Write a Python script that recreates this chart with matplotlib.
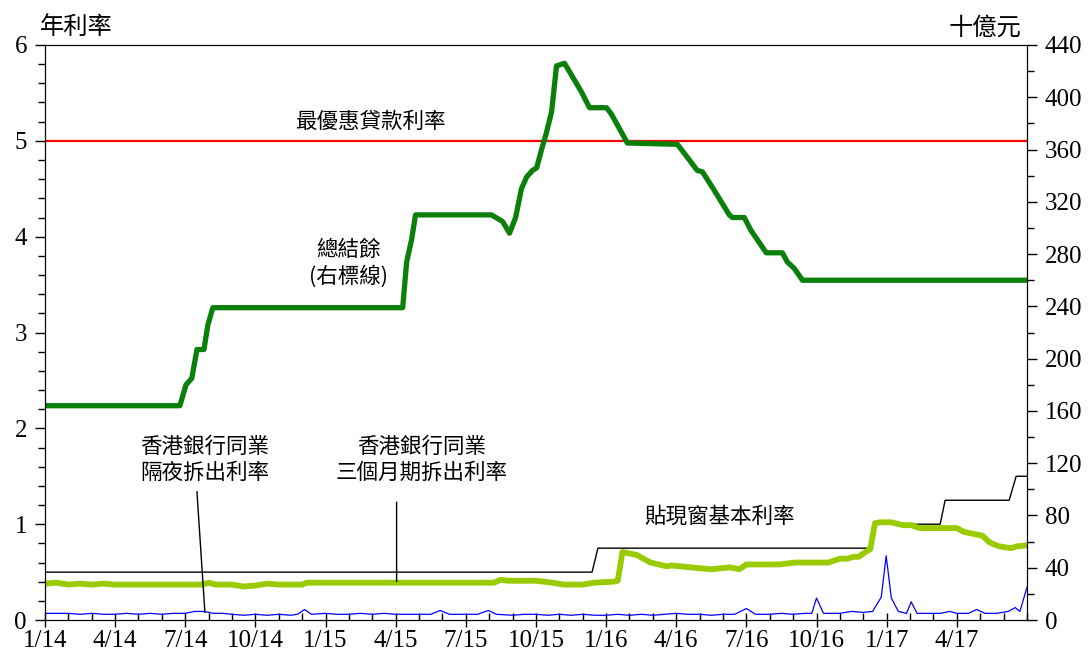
import numpy as np
import matplotlib.pyplot as plt
from matplotlib.ticker import MultipleLocator, FixedLocator

plt.rcParams['font.family'] = ['Liberation Serif', 'Noto Sans CJK TC']
CJK = ['Noto Sans CJK TC', 'DejaVu Sans']

# months counted from Jan 2014 (0 = 1/14)
agg_month = [0, 5.77, 6.03, 6.28, 6.5, 6.8, 6.97, 7.18, 15.3, 15.47, 15.68, 15.85,
             19.1, 19.57, 19.87, 20.13, 20.38, 20.6, 20.85, 21.03, 21.24, 21.45,
             21.67, 21.88, 22.22, 22.52, 22.95, 23.29, 24.02, 24.23, 24.91, 27.05,
             27.35, 27.9, 28.12, 28.55, 29.27, 29.4, 29.91, 30.2, 30.47, 30.85,
             31.54, 31.75, 32.05, 32.4, 42]
agg_bal = [164, 164, 180, 185, 207, 207, 226, 239, 239, 274, 291, 310,
           310, 305, 296, 308, 330, 339, 344, 346, 360, 373,
           389, 424, 426, 417, 404, 392, 392, 387, 365, 364,
           357, 344, 343, 331, 310, 308, 308, 298, 291, 281,
           281, 274, 269, 260, 260]

prime_month = [0, 42]
prime_rate = [5.0, 5.0]

base_month = [0, 23.4, 23.65, 35.26, 35.56, 38.29, 38.5, 41.24, 41.54, 42]
base_rate = [0.5, 0.5, 0.75, 0.75, 1.0, 1.0, 1.25, 1.25, 1.5, 1.5]

h3m_month = [0, 0.5, 1, 1.5, 2, 2.5, 3, 6.7, 7.0, 7.3, 8, 8.5, 9, 9.5, 10, 11,
             11.2, 19.2, 19.5, 19.8, 21, 21.7, 22.2, 23, 23.5, 24.3, 24.5, 24.7,
             25.3, 25.9, 26.6, 26.8, 27.6, 28.5, 29.3, 29.7, 30.0, 31.4, 32.1,
             33.5, 34.0, 34.3, 34.6, 34.8, 35.1, 35.3, 35.5, 35.7, 36.2, 36.7,
             37.05, 37.4, 39.0, 39.3, 40.1, 40.4, 40.8, 41.3, 41.6, 42]
h3m_rate = [0.38, 0.39, 0.37, 0.38, 0.37, 0.38, 0.37, 0.37, 0.39, 0.37, 0.37, 0.35,
            0.36, 0.38, 0.37, 0.37, 0.39, 0.39, 0.42, 0.41, 0.41, 0.39, 0.37, 0.37,
            0.39, 0.40, 0.41, 0.71, 0.68, 0.60, 0.56, 0.57, 0.55, 0.53, 0.55, 0.53,
            0.58, 0.58, 0.60, 0.60, 0.64, 0.64, 0.66, 0.66, 0.71, 0.74, 1.01, 1.02,
            1.02, 0.99, 0.99, 0.96, 0.96, 0.92, 0.88, 0.81, 0.77, 0.75, 0.77, 0.78]

on_month = [0, 1, 1.5, 2, 2.5, 3, 3.5, 4, 4.5, 5, 5.5, 6, 6.4, 6.8, 7.2, 7.6, 8,
            8.5, 9, 9.5, 10, 10.5, 10.8, 11.1, 11.4, 12, 12.5, 13, 13.5, 14, 14.5,
            15, 15.5, 16, 16.5, 16.9, 17.3, 18, 18.5, 18.97, 19.3, 20, 20.5, 21,
            21.5, 22, 22.5, 23, 23.5, 24, 24.5, 25, 25.5, 26, 26.5, 27, 27.5, 28,
            28.5, 29, 29.5, 30.0, 30.4, 31, 31.5, 32, 32.5, 32.8, 33.0, 33.3, 34,
            34.5, 35, 35.4, 35.77, 35.98, 36.2, 36.5, 36.85, 37.05, 37.3, 38, 38.3,
            38.7, 39, 39.5, 39.85, 40.2, 40.7, 41.2, 41.5, 41.7, 42]
on_rate = [0.07, 0.07, 0.06, 0.07, 0.06, 0.06, 0.07, 0.06, 0.07, 0.06, 0.07, 0.07,
           0.09, 0.09, 0.07, 0.07, 0.06, 0.05, 0.06, 0.05, 0.06, 0.05, 0.06, 0.11,
           0.06, 0.07, 0.06, 0.06, 0.07, 0.06, 0.07, 0.06, 0.06, 0.06, 0.06, 0.10,
           0.06, 0.06, 0.06, 0.10, 0.06, 0.05, 0.06, 0.06, 0.05, 0.06, 0.05, 0.06,
           0.05, 0.05, 0.06, 0.05, 0.06, 0.05, 0.06, 0.07, 0.06, 0.06, 0.05, 0.06,
           0.06, 0.12, 0.06, 0.06, 0.07, 0.06, 0.07, 0.07, 0.23, 0.07, 0.07, 0.09,
           0.08, 0.09, 0.24, 0.67, 0.23, 0.09, 0.07, 0.19, 0.07, 0.07, 0.07, 0.09,
           0.07, 0.07, 0.11, 0.07, 0.07, 0.09, 0.13, 0.09, 0.34]

tick_months = [0, 3, 6, 9, 12, 15, 18, 21, 24, 27, 30, 33, 36, 39]
tick_labels = ['1/14', '4/14', '7/14', '10/14', '1/15', '4/15', '7/15', '10/15',
               '1/16', '4/16', '7/16', '10/16', '1/17', '4/17']

fig = plt.figure(figsize=(10.89, 6.52), dpi=100)
ax = fig.add_axes([0.0413, 0.049, 0.9017, 0.882])
ax2 = ax.twinx()

ax.plot(prime_month, prime_rate, color='#ff0000', lw=1.6)
ax.plot(base_month, base_rate, color='black', lw=1.0)
ax.plot(h3m_month, h3m_rate, color='#99cc00', lw=4.2, solid_joinstyle='round')
ax.plot(on_month, on_rate, color='#0000ff', lw=0.9)
ax2.plot(agg_month, agg_bal, color='#0a800a', lw=3.8, solid_joinstyle='round')

ax.set_xlim(0, 42)
ax.set_ylim(0, 6)
ax2.set_ylim(0, 440)

ax.xaxis.set_major_locator(FixedLocator(tick_months))
ax.set_xticklabels(tick_labels)
ax.xaxis.set_minor_locator(MultipleLocator(1))
ax.yaxis.set_major_locator(MultipleLocator(1))
ax.yaxis.set_minor_locator(MultipleLocator(0.2))
ax2.yaxis.set_major_locator(MultipleLocator(40))
ax2.yaxis.set_minor_locator(MultipleLocator(20))

ax.tick_params(axis='x', which='major', direction='inout', length=10, width=1, labelsize=18, pad=2)
ax.tick_params(axis='x', which='minor', direction='in', length=5, width=1)
ax.tick_params(axis='y', which='major', direction='out', length=7, width=1, labelsize=18, pad=6)
ax.tick_params(axis='y', which='minor', direction='out', length=5, width=1)
ax2.tick_params(axis='y', which='major', direction='out', length=7, width=1, labelsize=18, pad=6)
ax2.tick_params(axis='y', which='minor', direction='out', length=5, width=1)

fig.text(0.037, 0.958, '年利率', family=CJK, fontsize=17.5, ha='left', va='center')
fig.text(0.938, 0.958, '十億元', family=CJK, fontsize=17.5, ha='right', va='center')

ax.text(13.9, 5.2, '最優惠貸款利率', family=CJK, fontsize=15.5, ha='center', va='center')
ax.text(13.0, 3.72, '總結餘\n(右標線)', family=CJK, fontsize=15.5, ha='center', va='center',
        linespacing=1.2)
ax.text(6.84, 1.67, '香港銀行同業\n隔夜拆出利率', family=CJK, fontsize=15.5, ha='center',
        va='center', linespacing=1.2)
ax.text(16.1, 1.67, '香港銀行同業\n三個月期拆出利率', family=CJK, fontsize=15.5, ha='center',
        va='center', linespacing=1.2)
ax.text(28.85, 1.075, '貼現窗基本利率', family=CJK, fontsize=15.5, ha='center', va='center')

ax.annotate('', xy=(6.84, 0.08), xytext=(6.5, 1.34),
            arrowprops=dict(arrowstyle='-', color='black', lw=1.0, shrinkA=0, shrinkB=0))
ax.annotate('', xy=(15.04, 0.40), xytext=(15.04, 1.23),
            arrowprops=dict(arrowstyle='-', color='black', lw=1.0, shrinkA=0, shrinkB=0))

fig.savefig('out.png', dpi=100)
